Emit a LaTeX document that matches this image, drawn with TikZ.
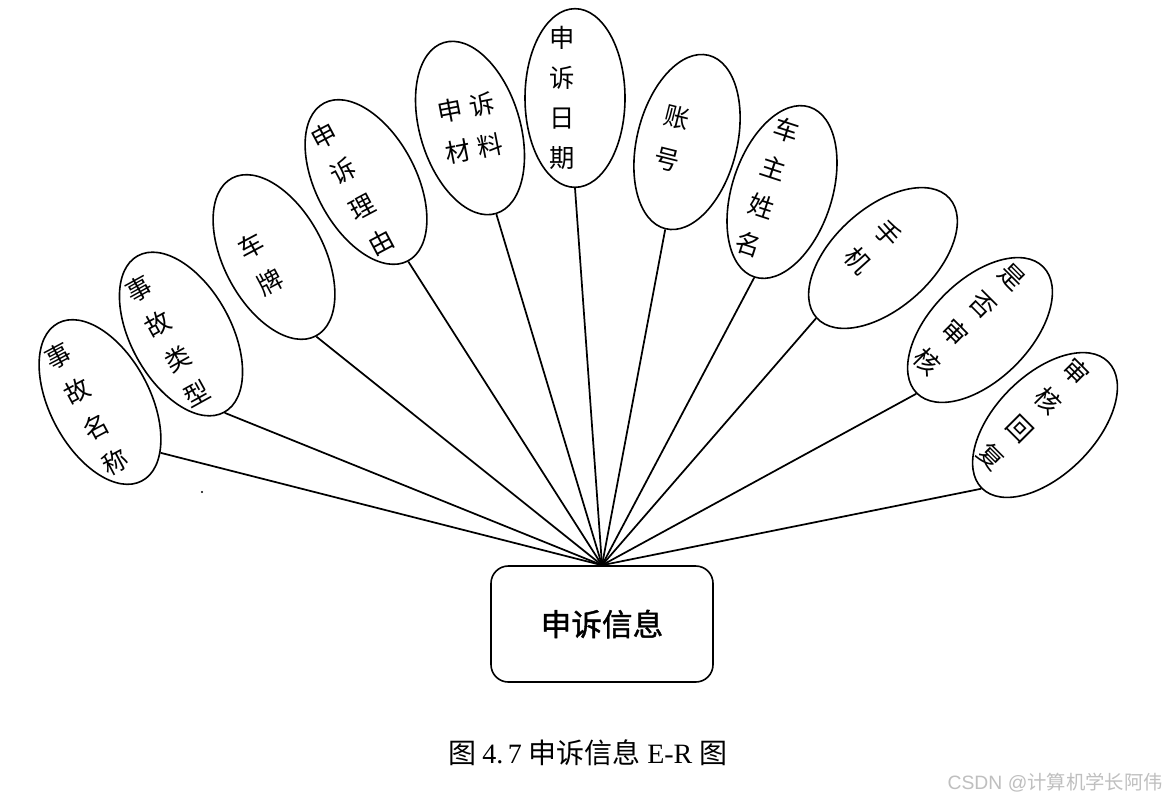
\documentclass[tikz,border=0pt]{standalone}
\usepackage{fontspec}
\newfontfamily\cjk{Noto Sans CJK SC}
\newfontfamily\cjkb[FakeBold=1.2]{Noto Sans CJK SC}
\newfontfamily\lsans{Liberation Sans}
\newfontfamily\lserif{Liberation Serif}
\usetikzlibrary{shapes.geometric,calc}
\begin{document}
\begin{tikzpicture}[x=0.75pt,y=-0.75pt,
  attr/.style={ellipse,draw,line width=1.2pt,minimum width=75pt,minimum height=134pt,inner sep=0pt},
  attrtext/.style={font=\cjk\fontsize{19pt}{30pt}\selectfont,align=center,inner sep=0pt},
  link/.style={line width=1.3pt},
  entity/.style={draw,line width=1.2pt,rounded corners=13pt,minimum width=166.5pt,minimum height=87pt,inner sep=0pt,font=\cjkb\fontsize{23pt}{28pt}\selectfont}]
\useasboundingbox (0,0) rectangle (1166,804);
\fill[white] (0,0) rectangle (1166,804);
% entity
\node[entity] (box) at (602,624) {申诉信息};
% attributes
\node[attr,rotate=28] (e1) at (100,402) {};
\node[attr,rotate=29] (e2) at (181,334) {};
\node[attr,rotate=28] (e3) at (274,257) {};
\node[attr,rotate=28] (e4) at (366,182) {};
\node[attr,rotate=17] (e5) at (470,128) {};
\node[attr,rotate=0] (e6) at (575,98) {};
\node[attr,rotate=-14] (e7) at (687,142) {};
\node[attr,rotate=-18] (e8) at (782,192) {};
\node[attr,rotate=-48] (e9) at (883,258) {};
\node[attr,rotate=-45] (e10) at (980,330) {};
\node[attr,rotate=-45] (e11) at (1045,425) {};
% texts
\node[attrtext,rotate=28] (t1) at ($(e1.center)!0.3!(e1.west)$) {事\\故\\名\\称};
\node[attrtext,rotate=29] (t2) at ($(e2.center)!0.3!(e2.west)$) {事\\故\\类\\型};
\node[attrtext,rotate=28] (t3) at ($(e3.center)!0.3!(e3.west)$) {车\\牌};
\node[attrtext,rotate=28] (t4) at ($(e4.center)!0.3!(e4.west)$) {申\\诉\\理\\由};
\node[attrtext,rotate=11,font=\cjk\fontsize{19pt}{31pt}\selectfont] (t5) at (e5.center) {申\hspace{5pt}诉\\材\hspace{5pt}料};
\node[attrtext,rotate=0] (t6) at ($(e6.center)!0.25!(e6.west)$) {申\\诉\\日\\期};
\node[attrtext,rotate=-14,font=\cjk\fontsize{19pt}{33pt}\selectfont] (t7) at ($(e7.center)!0.3!(e7.west)$) {账\\号};
\node[attrtext,rotate=-18] (t8) at ($(e8.center)!0.3!(e8.west)$) {车\\主\\姓\\名};
\node[attrtext,rotate=-48] (t9) at ($(e9.center)!0.3!(e9.west)$) {手\\机};
\node[attrtext,rotate=-45] (t10) at ($(e10.center)!0.3!(e10.west)$) {是\\否\\审\\核};
\node[attrtext,rotate=-45] (t11) at ($(e11.center)!0.3!(e11.west)$) {审\\核\\回\\复};
% connectors
\draw[link] (e1.-68) -- (box.north);
\foreach \i in {2,...,11} {\draw[link] (e\i.south) -- (box.north);}
% stray dot
\node[circle,fill,inner sep=0pt,minimum size=1.6pt] (dot) at (202,492) {};
% caption
\node[inner sep=0pt,font=\fontsize{21pt}{25pt}\selectfont] (cap) at (588,753) {{\cjk 图}\hspace{4pt}{\lserif 4.\,7}\hspace{5pt}{\cjk 申诉信息}\hspace{5pt}{\lserif E-R}\hspace{5pt}{\cjk 图}};
% watermark
\node[anchor=east,inner sep=0pt,text=black!25,font=\fontsize{14.5pt}{17pt}\selectfont] (wm) at (1163,783) {{\lsans CSDN @}{\cjk 计算机学长阿伟}};
\end{tikzpicture}
\end{document}
